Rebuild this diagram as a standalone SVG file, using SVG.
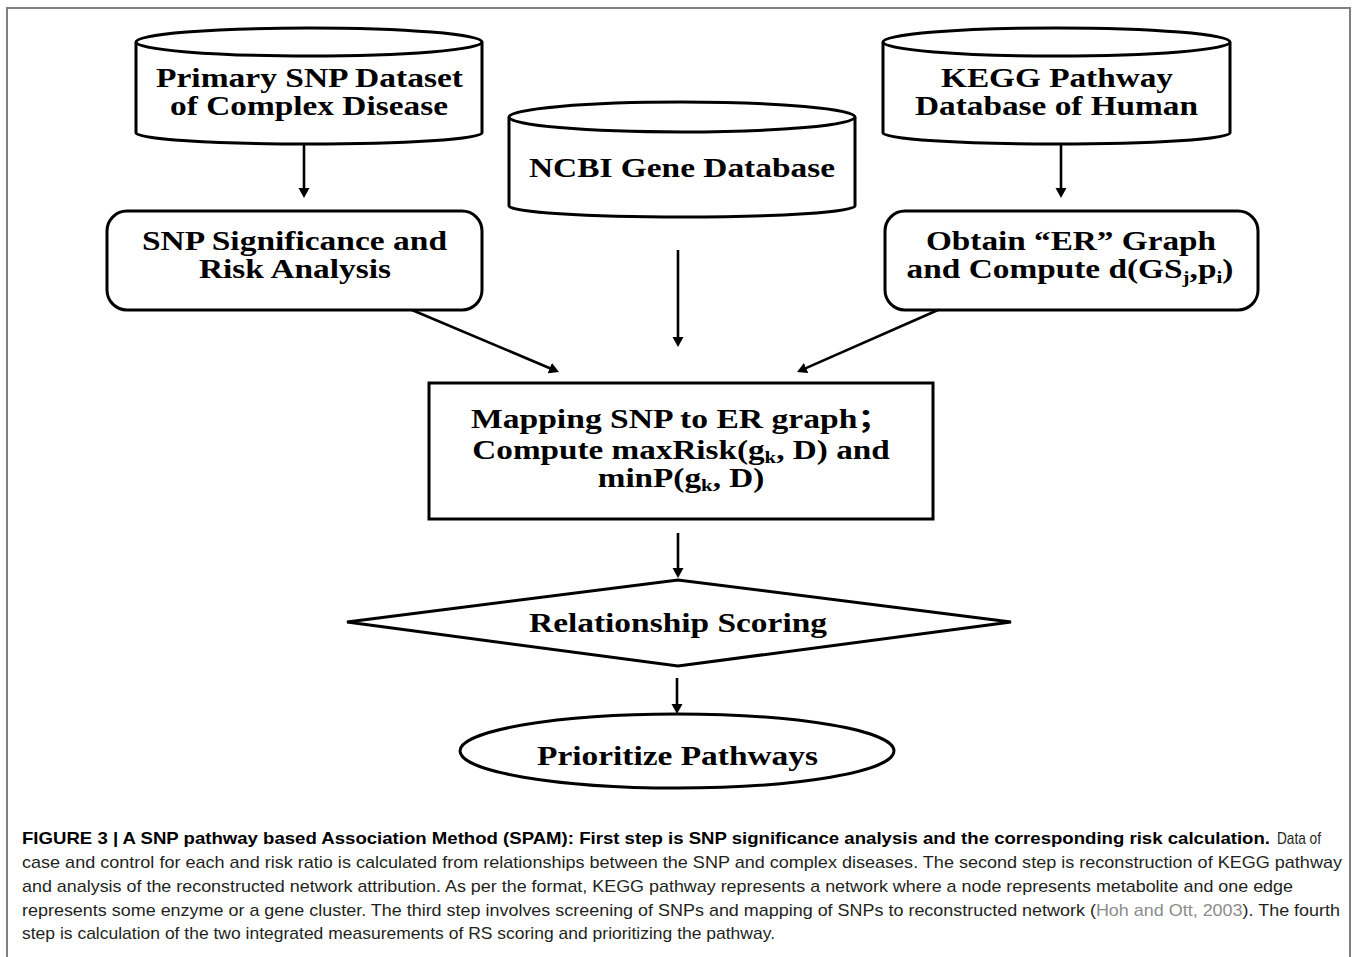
<svg xmlns="http://www.w3.org/2000/svg" width="1358" height="957" viewBox="0 0 1358 957">
<style>
.shape{fill:#fff;stroke:#000;stroke-width:3}
.con{fill:none;stroke:#000;stroke-width:2.6}
.t{font-family:"Liberation Serif","Times New Roman",serif;font-weight:bold;font-size:27px;fill:#000;text-anchor:middle}
.cap{font-family:"Liberation Sans",Arial,Helvetica,sans-serif;font-size:17px;fill:#231f20}
.capb{font-weight:bold;fill:#000}
.cite{fill:#8c8c8c}
</style>
<defs>
<marker id="ah" markerUnits="userSpaceOnUse" markerWidth="12" markerHeight="12" refX="4" refY="5.5" orient="auto">
<path d="M0,0 L10,5.5 L0,11 z" fill="#000"/>
</marker>
</defs>
<rect x="7" y="8" width="1343" height="1000" fill="#fff" stroke="#808080" stroke-width="2"/>

<g id="connectors">
<line class="con" x1="304" y1="144" x2="304" y2="192" marker-end="url(#ah)"/>
<line class="con" x1="1061" y1="144" x2="1061" y2="192" marker-end="url(#ah)"/>
<line class="con" x1="678" y1="250" x2="678" y2="341" marker-end="url(#ah)"/>
<line class="con" x1="412" y1="310" x2="553.5" y2="369.7" marker-end="url(#ah)"/>
<line class="con" x1="938" y1="310" x2="802.5" y2="369.6" marker-end="url(#ah)"/>
<line class="con" x1="678" y1="533" x2="678" y2="572" marker-end="url(#ah)"/>
<line class="con" x1="677" y1="678" x2="677" y2="708" marker-end="url(#ah)"/>
</g>

<g id="primary-snp-dataset">
<path class="shape" d="M136,42 V133 A173,11 0 0 0 482,133 V42"/>
<ellipse class="shape" cx="309" cy="42" rx="173" ry="14"/>
<text class="t" x="309.5" y="87" textLength="307" lengthAdjust="spacingAndGlyphs">Primary SNP Dataset</text>
<text class="t" x="309" y="115" textLength="278" lengthAdjust="spacingAndGlyphs">of Complex Disease</text>
</g>

<g id="ncbi-gene-database">
<path class="shape" d="M509,117 V206 A173,11 0 0 0 855,206 V117"/>
<ellipse class="shape" cx="682" cy="117" rx="173" ry="15"/>
<text class="t" x="682" y="177" textLength="306" lengthAdjust="spacingAndGlyphs">NCBI Gene Database</text>
</g>

<g id="kegg-pathway-database">
<path class="shape" d="M883,42 V133 A173.5,11 0 0 0 1230,133 V42"/>
<ellipse class="shape" cx="1056.5" cy="42" rx="173.5" ry="14"/>
<text class="t" x="1057" y="87" textLength="232" lengthAdjust="spacingAndGlyphs">KEGG Pathway</text>
<text class="t" x="1056.5" y="115" textLength="283" lengthAdjust="spacingAndGlyphs">Database of Human</text>
</g>

<g id="snp-significance">
<rect class="shape" x="107" y="211" width="375" height="99" rx="20" ry="20"/>
<text class="t" x="294.5" y="250" textLength="305" lengthAdjust="spacingAndGlyphs">SNP Significance and</text>
<text class="t" x="295" y="278" textLength="192" lengthAdjust="spacingAndGlyphs">Risk Analysis</text>
</g>

<g id="obtain-er-graph">
<rect class="shape" x="885" y="211" width="373" height="99" rx="20" ry="20"/>
<text class="t" x="1071" y="250" textLength="290" lengthAdjust="spacingAndGlyphs">Obtain “ER” Graph</text>
<text class="t" transform="translate(1070,278) scale(1.235,1)" x="0" y="0">and Compute d(GS<tspan font-size="17" dy="5">j</tspan><tspan dy="-5">,p</tspan><tspan font-size="17" dy="5">i</tspan><tspan dy="-5">)</tspan></text>
</g>

<g id="mapping-snp">
<rect class="shape" x="429" y="383" width="504" height="136"/>
<text class="t" x="681" y="428" textLength="420" lengthAdjust="spacingAndGlyphs" style="font-family:'Liberation Serif','Times New Roman','Noto Sans CJK SC',serif">Mapping SNP to ER graph；</text>
<text class="t" transform="translate(681,459) scale(1.23,1)" x="0" y="0">Compute maxRisk(g<tspan font-size="17" dy="4">k</tspan><tspan dy="-4">, D) and</tspan></text>
<text class="t" transform="translate(681,487) scale(1.23,1)" x="0" y="0">minP(g<tspan font-size="17" dy="4">k</tspan><tspan dy="-4">, D)</tspan></text>
</g>

<g id="relationship-scoring">
<polygon class="shape" points="347,622 678,580 1011,622 678,666"/>
<text class="t" x="678" y="632" textLength="298" lengthAdjust="spacingAndGlyphs">Relationship Scoring</text>
</g>

<g id="prioritize-pathways">
<ellipse class="shape" cx="677" cy="751" rx="217" ry="37"/>
<text class="t" x="677.5" y="765" textLength="281" lengthAdjust="spacingAndGlyphs">Prioritize Pathways</text>
</g>

<g id="caption">
<text class="cap capb" x="22" y="844" textLength="1248" lengthAdjust="spacingAndGlyphs">FIGURE 3 | A SNP pathway based Association Method (SPAM): First step is SNP significance analysis and the corresponding risk calculation.</text>
<text class="cap" x="1277" y="844" textLength="44" lengthAdjust="spacingAndGlyphs">Data of</text>
<text class="cap" x="22" y="868" textLength="1320" lengthAdjust="spacingAndGlyphs">case and control for each and risk ratio is calculated from relationships between the SNP and complex diseases. The second step is reconstruction of KEGG pathway</text>
<text class="cap" x="22" y="892" textLength="1271" lengthAdjust="spacingAndGlyphs">and analysis of the reconstructed network attribution. As per the format, KEGG pathway represents a network where a node represents metabolite and one edge</text>
<text class="cap" x="22" y="916" textLength="1318" lengthAdjust="spacingAndGlyphs">represents some enzyme or a gene cluster. The third step involves screening of SNPs and mapping of SNPs to reconstructed network (<tspan class="cite">Hoh and Ott, 2003</tspan>). The fourth</text>
<text class="cap" x="22" y="939" textLength="753" lengthAdjust="spacingAndGlyphs">step is calculation of the two integrated measurements of RS scoring and prioritizing the pathway.</text>
</g>
</svg>
